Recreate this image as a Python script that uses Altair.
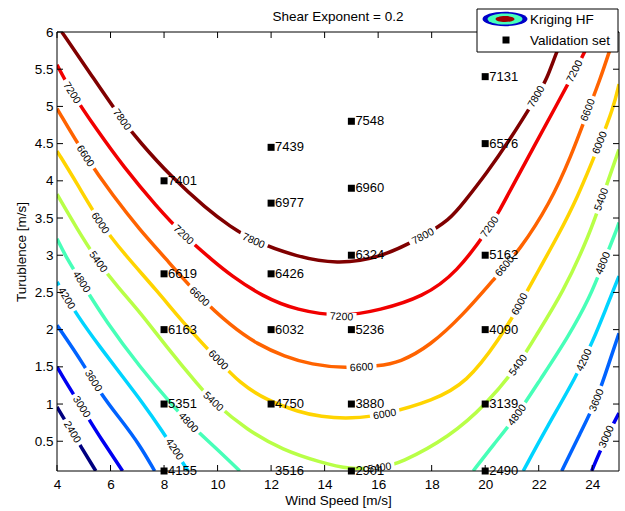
import altair as alt
import pandas as pd

FONT = "Liberation Sans"
W, H = 562, 439

# ---- contour levels and colours (jet) ----
levels = [2400, 3000, 3600, 4200, 4800, 5400, 6000, 6600, 7200, 7800]
level_colors = ["#000080", "#0000F1", "#0063FF", "#00D4FF", "#47FFB8",
                "#B8FF47", "#FFD400", "#FF6300", "#F10000", "#800000"]

# ---- contour lines (wind speed, turbulence) ----
c2400_x = [4.0, 4.35, 4.91, 5.45]
c2400_y = [0.96, 0.75, 0.42, 0.1]

c3000a_x = [4.0, 4.29, 4.6, 5.29, 5.6, 6.45]
c3000a_y = [1.50, 1.32, 1.14, 0.74, 0.56, 0.1]
c3000b_x = [23.98, 24.41, 25.0]
c3000b_y = [0.1, 0.47, 0.88]

c3600a_x = [4.0, 4.97, 5.66, 6.41, 7.09, 7.65]
c3600a_y = [2.06, 1.55, 1.12, 0.78, 0.45, 0.1]
c3600b_x = [22.86, 23.54, 24.17, 24.66, 25.0]
c3600b_y = [0.1, 0.60, 1.05, 1.59, 1.95]

c4200a_x = [4.0, 4.79, 5.6, 6.47, 7.21, 7.84, 8.9]
c4200a_y = [2.64, 2.17, 1.77, 1.36, 1.01, 0.69, 0.1]
c4200b_x = [21.42, 22.29, 23.42, 24.04, 24.5, 25.0]
c4200b_y = [0.1, 0.68, 1.38, 1.86, 2.27, 2.72]

c4800a_x = [4.0, 4.36, 4.91, 5.85, 7.09, 8.34, 8.96, 9.96, 10.83]
c4800a_y = [3.22, 2.96, 2.64, 2.10, 1.50, 0.97, 0.73, 0.40, 0.1]
c4800b_x = [19.55, 20.3, 21.2, 22.04, 23.1, 23.92, 24.41, 24.91, 25.0]
c4800b_y = [0.1, 0.45, 0.85, 1.32, 1.90, 2.44, 2.89, 3.34, 3.44]

c5400_x = [4.0, 4.74, 5.53, 6.3, 7.09, 8.09, 9.33, 9.83, 11.1, 12.45, 13.82, 14.94,
           16.06, 16.81, 18.68, 20.05, 21.24, 21.79, 22.92, 23.92, 24.35, 24.91, 25.0]
c5400_y = [3.82, 3.36, 2.91, 2.56, 2.24, 1.77, 1.23, 1.03, 0.65, 0.38, 0.22, 0.12,
           0.14, 0.20, 0.56, 1.0, 1.52, 1.86, 2.50, 3.30, 3.75, 4.33, 4.42]

c6000_x = [4.0, 4.74, 5.61, 6.5, 7.72, 8.84, 10.02, 10.83, 11.83, 13.07, 13.82, 15.0,
           16.25, 18.06, 19.3, 20.55, 21.3, 22.0, 22.7, 23.42, 24.29, 24.79, 25.0]
c6000_y = [4.40, 3.97, 3.43, 3.02, 2.53, 2.04, 1.59, 1.28, 1.05, 0.89, 0.83, 0.80,
           0.86, 1.05, 1.28, 1.88, 2.34, 2.80, 3.25, 3.75, 4.51, 4.98, 5.30]

c6600_x = [4.0, 5.05, 6.11, 7.1, 8.0, 9.31, 10.5, 11.5, 12.5, 13.5, 14.8, 16.0, 16.81,
           17.93, 19.18, 20.3, 21.3, 22.42, 23.2, 23.85, 24.29, 24.66, 24.88]
c6600_y = [4.97, 4.33, 3.79, 3.34, 2.98, 2.44, 2.05, 1.80, 1.64, 1.53, 1.48, 1.51, 1.56,
           1.78, 2.20, 2.67, 3.07, 3.70, 4.32, 4.95, 5.36, 5.76, 6.0]

c7200_x = [4.0, 4.55, 5.48, 6.48, 7.73, 8.72, 9.85, 10.46, 11.7, 12.95, 14.63, 16.06,
           17.68, 18.93, 20.18, 20.55, 20.92, 21.79, 22.67, 23.35, 23.73, 24.05]
c7200_y = [5.56, 5.18, 4.69, 4.19, 3.65, 3.27, 2.92, 2.74, 2.44, 2.26, 2.17, 2.26,
           2.44, 2.76, 3.38, 3.61, 3.86, 4.44, 5.02, 5.47, 5.74, 6.0]

c7800_x = [4.18, 5.23, 6.42, 7.1, 8.22, 9.6, 10.46, 11.34, 12.95, 14.45, 16.06, 17.68,
           18.68, 19.18, 20.05, 20.92, 21.92, 22.3, 22.67, 23.0]
c7800_y = [6.0, 5.45, 4.82, 4.52, 4.07, 3.62, 3.39, 3.19, 2.98, 2.88, 2.96, 3.25,
           3.48, 3.70, 4.10, 4.55, 5.13, 5.36, 5.74, 6.0]

segments = [
    (2400, "a", c2400_x, c2400_y),
    (3000, "a", c3000a_x, c3000a_y), (3000, "b", c3000b_x, c3000b_y),
    (3600, "a", c3600a_x, c3600a_y), (3600, "b", c3600b_x, c3600b_y),
    (4200, "a", c4200a_x, c4200a_y), (4200, "b", c4200b_x, c4200b_y),
    (4800, "a", c4800a_x, c4800a_y), (4800, "b", c4800b_x, c4800b_y),
    (5400, "a", c5400_x, c5400_y),
    (6000, "a", c6000_x, c6000_y),
    (6600, "a", c6600_x, c6600_y),
    (7200, "a", c7200_x, c7200_y),
    (7800, "a", c7800_x, c7800_y),
]

# ---- inline contour labels ----
lab_level = [7800, 7800, 7800, 7800,
             7200, 7200, 7200, 7200, 7200,
             6600, 6600, 6600, 6600, 6600,
             6000, 6000, 6000, 6000, 6000,
             5400, 5400, 5400, 5400, 5400,
             4800, 4800, 4800, 4800,
             4200, 4200, 4200,
             3600, 3600,
             3000, 3000,
             2400]
lab_x = [6.42, 11.34, 17.68, 21.92,
         4.55, 8.72, 14.63, 20.18, 23.35,
         5.05, 9.31, 15.38, 20.74, 23.85,
         5.61, 10.02, 16.25, 21.3, 24.29,
         5.53, 9.83, 16.06, 21.24, 24.35,
         4.91, 8.9, 21.2, 24.41,
         4.35, 8.38, 23.7,
         5.35, 24.17,
         4.91, 24.54,
         4.56]
lab_y = [4.82, 3.19, 3.25, 5.13,
         5.18, 3.27, 2.17, 3.38, 5.47,
         4.33, 2.44, 1.49, 2.85, 4.95,
         3.43, 1.59, 0.86, 2.34, 4.51,
         2.91, 1.03, 0.14, 1.52, 3.75,
         2.64, 0.75, 0.85, 2.89,
         2.42, 0.39, 1.59,
         1.31, 1.05,
         0.96, 0.56,
         0.62]
lab_angle = [55, 24, 332, 300,
             58, 43, 2, 305, 297,
             57, 44, 357, 310, 291,
             56, 45, 350, 298, 292,
             54, 43, 352, 306, 290,
             58, 47, 306, 292,
             59, 57, 295,
             58, 292,
             58, 294,
             59]

# ---- validation set ----
val_x = [8, 8, 8, 8, 8,
         12, 12, 12, 12, 12, 12,
         15, 15, 15, 15, 15, 15,
         20, 20, 20, 20, 20, 20]
val_y = [4.0, 2.75, 2.0, 1.0, 0.1,
         4.45, 3.7, 2.75, 2.0, 1.0, 0.1,
         4.8, 3.9, 3.0, 2.0, 1.0, 0.1,
         5.4, 4.5, 3.0, 2.0, 1.0, 0.1]
val_label = [7401, 6619, 6163, 5351, 4155,
             7439, 6977, 6426, 6032, 4750, 3516,
             7548, 6960, 6324, 5236, 3880, 2901,
             7131, 6576, 5162, 4090, 3139, 2490]
val_marker = [True, True, True, True, True,
              True, True, True, True, True, False,
              True, True, True, True, True, True,
              True, True, True, True, True, True]

x_ticks = [4, 6, 8, 10, 12, 14, 16, 18, 20, 22, 24]
y_ticks = [0.5, 1, 1.5, 2, 2.5, 3, 3.5, 4, 4.5, 5, 5.5, 6]

# ---- tables ----
rows = []
for lvl, seg, xs_, ys_ in segments:
    for i, (xv, yv) in enumerate(zip(xs_, ys_)):
        rows.append({"level": lvl, "seg": f"{lvl}{seg}", "i": i, "x": xv, "y": yv})
lines_df = pd.DataFrame(rows)
labels_df = pd.DataFrame({"level": lab_level, "x": lab_x, "y": lab_y,
                          "ang": lab_angle, "txt": [str(v) for v in lab_level]})
val_df = pd.DataFrame({"x": val_x, "y": val_y, "txt": [str(v) for v in val_label],
                       "marker": val_marker})
xt_df = pd.DataFrame({"x": x_ticks})
yt_df = pd.DataFrame({"y": y_ticks})
one = pd.DataFrame({"k": [0]})

xs = alt.Scale(domain=[4, 25], nice=False, zero=False)
ys = alt.Scale(domain=[0.1, 6], nice=False, zero=False)

x_axis = alt.Axis(values=x_ticks, title="Wind Speed [m/s]", domain=False, ticks=False,
                  grid=False, labelFont=FONT, labelFontSize=13.5, labelColor="black",
                  labelPadding=6, labelFlush=False, titleFont=FONT, titleFontSize=13.5,
                  titleFontWeight="normal", titleColor="black", titlePadding=3)
y_axis = alt.Axis(values=y_ticks, format="~g", title="Turublence [m/s]", domain=False,
                  ticks=False, grid=False, labelFont=FONT, labelFontSize=13.5,
                  labelColor="black", labelPadding=4, labelFlush=False, titleFont=FONT,
                  titleFontSize=13.5, titleFontWeight="normal", titleColor="black",
                  titlePadding=6)

X = alt.X("x:Q", scale=xs, axis=x_axis)
Y = alt.Y("y:Q", scale=ys, axis=y_axis)

lines = alt.Chart(lines_df).mark_line(
    strokeWidth=3.5, clip=True, interpolate="basis", strokeCap="butt"
).encode(
    x=X, y=Y,
    color=alt.Color("level:O", scale=alt.Scale(domain=levels, range=level_colors), legend=None),
    detail="seg:N",
    order="i:Q",
)

GAP = "M-1,-0.3L1,-0.3L1,0.3L-1,0.3Z"
gaps = alt.Chart(labels_df).mark_point(
    shape=GAP, filled=True, fill="white", strokeWidth=0, size=30 * 30, opacity=1
).encode(x=X, y=Y, angle=alt.Angle("ang:Q", scale=None))

clabels = alt.Chart(labels_df).mark_text(
    font=FONT, fontSize=10.5, color="black", align="center", baseline="middle"
).encode(x=X, y=Y, text="txt:N", angle=alt.Angle("ang:Q", scale=None))

frame = alt.Chart(one).mark_rect(fillOpacity=0, stroke="black", strokeWidth=1).encode(
    x=alt.value(0), x2=alt.value(W), y=alt.value(0), y2=alt.value(H)
)

tick_b = alt.Chart(xt_df).mark_rule(color="black", strokeWidth=1).encode(
    x=X, y=alt.value(H), y2=alt.value(H - 6))
tick_t = alt.Chart(xt_df).mark_rule(color="black", strokeWidth=1).encode(
    x=X, y=alt.value(0), y2=alt.value(6))
tick_l = alt.Chart(yt_df).mark_rule(color="black", strokeWidth=1).encode(
    y=Y, x=alt.value(0), x2=alt.value(6))
tick_r = alt.Chart(yt_df).mark_rule(color="black", strokeWidth=1).encode(
    y=Y, x=alt.value(W), x2=alt.value(W - 6))

squares = alt.Chart(val_df).transform_filter("datum.marker").mark_point(
    shape="square", filled=True, color="black", size=49, opacity=1
).encode(x=X, y=Y)

vlabels = alt.Chart(val_df).mark_text(
    font=FONT, fontSize=13, color="black", align="left", baseline="middle", dx=4
).encode(x=X, y=Y, text="txt:N")

title = alt.Chart(one).mark_text(
    text="Shear Exponent = 0.2", font=FONT, fontSize=13.5, color="black",
    align="center", baseline="middle"
).encode(x=alt.value(W / 2), y=alt.value(-15))

# ---- legend (drawn by hand, MATLAB style) ----
ELL = ("M-1,0C-1,-0.176,-0.552,-0.318,0,-0.318C0.552,-0.318,1,-0.176,1,0"
       "C1,0.176,0.552,0.318,0,0.318C-0.552,0.318,-1,0.176,-1,0Z")
leg_box = alt.Chart(one).mark_rect(fill="white", stroke="black", strokeWidth=1).encode(
    x=alt.value(420), x2=alt.value(561), y=alt.value(-23), y2=alt.value(20))
leg_e1 = alt.Chart(one).mark_point(shape=ELL, filled=True, fill="#0000C8", strokeWidth=0,
                                   size=45 * 45, opacity=1).encode(
    x=alt.value(448), y=alt.value(-13))
leg_e2 = alt.Chart(one).mark_point(shape=ELL, filled=True, fill="#47FFB8", strokeWidth=0,
                                   size=35 * 35, opacity=1).encode(
    x=alt.value(448), y=alt.value(-13))
leg_e3 = alt.Chart(one).mark_point(shape=ELL, filled=True, fill="#A00000", strokeWidth=0,
                                   size=19 * 19, opacity=1).encode(
    x=alt.value(448), y=alt.value(-13))
leg_t1 = alt.Chart(one).mark_text(text="Kriging HF", font=FONT, fontSize=13.5,
                                  color="black", align="left", baseline="middle").encode(
    x=alt.value(473), y=alt.value(-12))
leg_sq = alt.Chart(one).mark_point(shape="square", filled=True, color="black", size=49,
                                   opacity=1).encode(x=alt.value(449), y=alt.value(8))
leg_t2 = alt.Chart(one).mark_text(text="Validation set", font=FONT, fontSize=13.5,
                                  color="black", align="left", baseline="middle").encode(
    x=alt.value(473), y=alt.value(8.5))

chart = alt.layer(
    lines, gaps, clabels, frame, tick_b, tick_t, tick_l, tick_r,
    squares, vlabels, title, leg_box, leg_e1, leg_e2, leg_e3, leg_t1, leg_sq, leg_t2
).properties(
    width=W, height=H,
    padding={"left": 57, "top": 32, "right": 6, "bottom": 40},
    autosize=alt.AutoSizeParams(type="none"),
    background="white",
).configure_view(strokeOpacity=0)

chart.save("out.html", embed_options={"renderer": "svg", "actions": False})
